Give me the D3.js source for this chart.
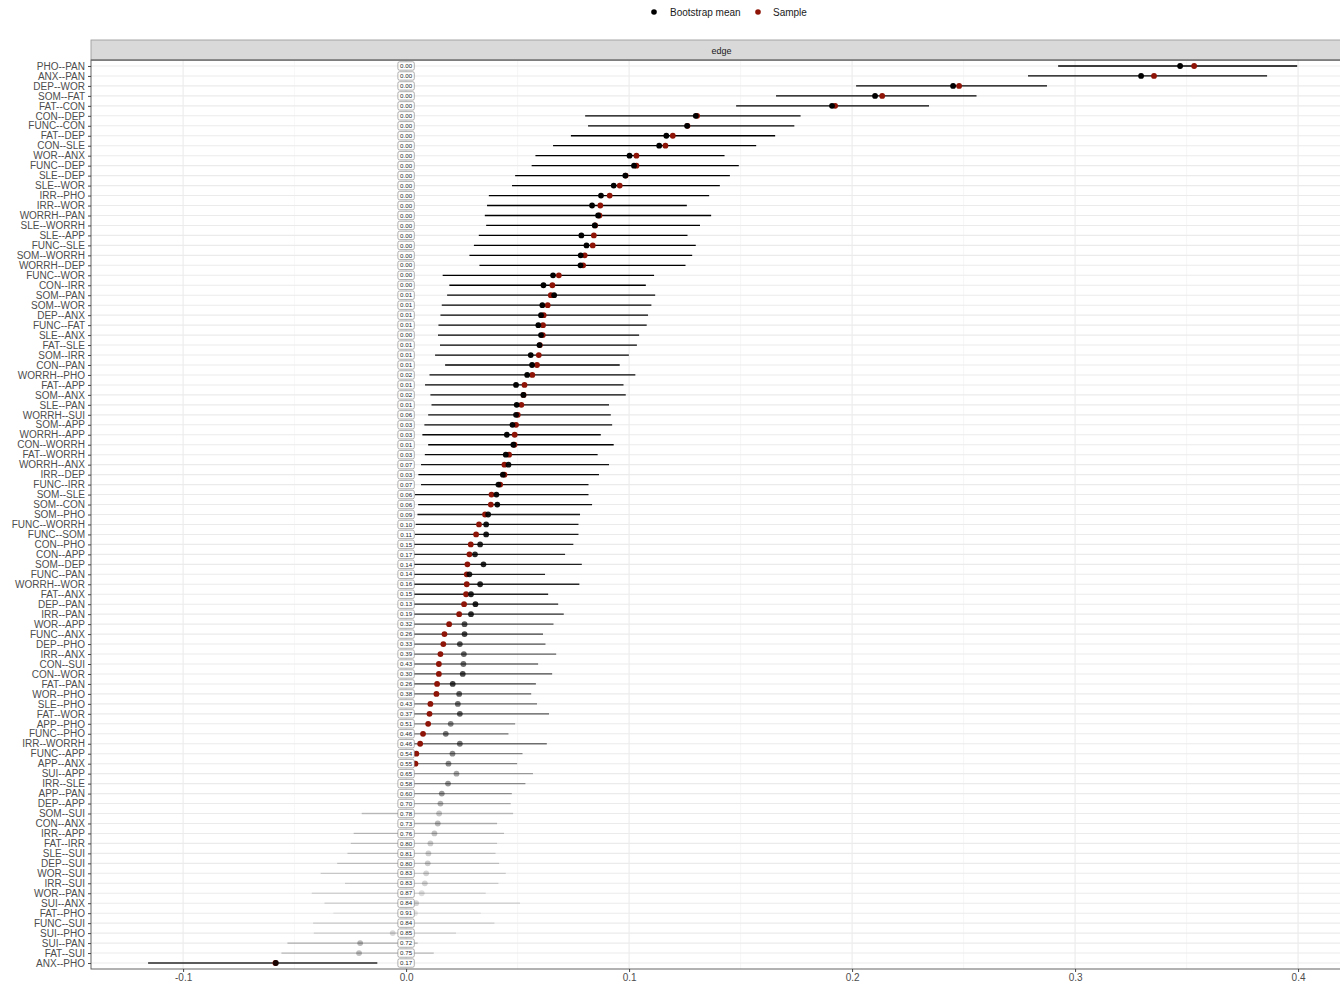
<!DOCTYPE html>
<html>
<head>
<meta charset="utf-8">
<script src="https://cdn.jsdelivr.net/npm/d3@7/dist/d3.min.js"></script>
<style>
  html, body { margin: 0; padding: 0; background: #ffffff; }
  svg { display: block; font-family: "Liberation Sans", Arial, Helvetica, sans-serif; }
</style>
</head>
<body>
<svg id="chart" width="1340" height="987"></svg>
<script>
// Edge weights, ordered from strongest to weakest sample estimate
const edges = [
  "PHO--PAN","ANX--PAN","DEP--WOR","SOM--FAT","FAT--CON","CON--DEP","FUNC--CON","FAT--DEP","CON--SLE","WOR--ANX",
  "FUNC--DEP","SLE--DEP","SLE--WOR","IRR--PHO","IRR--WOR","WORRH--PAN","SLE--WORRH","SLE--APP","FUNC--SLE","SOM--WORRH",
  "WORRH--DEP","FUNC--WOR","CON--IRR","SOM--PAN","SOM--WOR","DEP--ANX","FUNC--FAT","SLE--ANX","FAT--SLE","SOM--IRR",
  "CON--PAN","WORRH--PHO","FAT--APP","SOM--ANX","SLE--PAN","WORRH--SUI","SOM--APP","WORRH--APP","CON--WORRH","FAT--WORRH",
  "WORRH--ANX","IRR--DEP","FUNC--IRR","SOM--SLE","SOM--CON","SOM--PHO","FUNC--WORRH","FUNC--SOM","CON--PHO","CON--APP",
  "SOM--DEP","FUNC--PAN","WORRH--WOR","FAT--ANX","DEP--PAN","IRR--PAN","WOR--APP","FUNC--ANX","DEP--PHO","IRR--ANX",
  "CON--SUI","CON--WOR","FAT--PAN","WOR--PHO","SLE--PHO","FAT--WOR","APP--PHO","FUNC--PHO","IRR--WORRH","FUNC--APP",
  "APP--ANX","SUI--APP","IRR--SLE","APP--PAN","DEP--APP","SOM--SUI","CON--ANX","IRR--APP","FAT--IRR","SLE--SUI",
  "DEP--SUI","WOR--SUI","IRR--SUI","WOR--PAN","SUI--ANX","FAT--PHO","FUNC--SUI","SUI--PHO","SUI--PAN","FAT--SUI",
  "ANX--PHO"
];

// Edge weight in the original sample
const sampleValues = [
  0.3534,0.3354,0.2480,0.2135,0.1924,0.1305,0.1262,0.1196,0.1163,0.1033,
  0.1033,0.0985,0.0958,0.0913,0.0871,0.0867,0.0848,0.0842,0.0837,0.0801,
  0.0794,0.0685,0.0656,0.0649,0.0635,0.0617,0.0614,0.0613,0.0600,0.0595,
  0.0587,0.0566,0.0531,0.0527,0.0517,0.0501,0.0493,0.0487,0.0486,0.0462,
  0.0441,0.0441,0.0422,0.0383,0.0380,0.0354,0.0327,0.0314,0.0290,0.0284,
  0.0275,0.0272,0.0272,0.0269,0.0260,0.0238,0.0193,0.0172,0.0167,0.0154,
  0.0147,0.0147,0.0139,0.0136,0.0109,0.0105,0.0099,0.0076,0.0063,0.0046,
  0.0042,0,0,0,0,0,0,0,0,0,
  0,0,0,0,0,0,0,0,0,0,
  -0.0586
];

// Mean edge weight over bootstrap samples
const bootMeans = [
  0.3471,0.3296,0.2453,0.2103,0.1910,0.1299,0.1260,0.1167,0.1135,0.1002,
  0.1022,0.0983,0.0931,0.0874,0.0834,0.0861,0.0846,0.0786,0.0809,0.0783,
  0.0782,0.0659,0.0616,0.0664,0.0611,0.0605,0.0593,0.0605,0.0598,0.0559,
  0.0565,0.0543,0.0493,0.0526,0.0496,0.0493,0.0477,0.0452,0.0481,0.0447,
  0.0459,0.0434,0.0414,0.0405,0.0409,0.0368,0.0359,0.0359,0.0332,0.0309,
  0.0347,0.0284,0.0332,0.0291,0.0311,0.0291,0.0262,0.0262,0.0241,0.0259,
  0.0257,0.0254,0.0209,0.0238,0.0232,0.0241,0.0200,0.0178,0.0241,0.0208,
  0.0190,0.0226,0.0188,0.0160,0.0154,0.0148,0.0142,0.0127,0.0109,0.0100,
  0.0097,0.0090,0.0084,0.0070,0.0045,0.0040,0.0010,-0.0060,-0.0206,-0.0211,
  -0.0584
];

// Bootstrapped interval bounds
const ciLower = [
  0.2924,0.2789,0.2018,0.1659,0.1480,0.0803,0.0816,0.0739,0.0659,0.0580,
  0.0563,0.0489,0.0475,0.0371,0.0363,0.0353,0.0359,0.0326,0.0304,0.0284,
  0.0329,0.0164,0.0194,0.0184,0.0160,0.0154,0.0145,0.0143,0.0152,0.0130,
  0.0175,0.0105,0.0085,0.0109,0.0114,0.0099,0.0082,0.0073,0.0099,0.0084,
  0.0067,0.0055,0.0067,0.0040,0.0054,0.0051,0.0043,0.0040,0,0,
  0,0,0,0,0,0,0,0,0,0,
  0,0,0,0,0,0,0,0,0,0,
  0,0,0,0,0,-0.0199,0,-0.0235,-0.0248,-0.0263,
  -0.0309,-0.0383,-0.0274,-0.0423,-0.0366,-0.0326,-0.0417,-0.0414,-0.0532,-0.0559,
  -0.1157
];

const ciUpper = [
  0.3996,0.3861,0.2874,0.2558,0.2345,0.1769,0.1741,0.1655,0.1570,0.1428,
  0.1492,0.1452,0.1407,0.1359,0.1259,0.1368,0.1318,0.1262,0.1299,0.1283,
  0.1253,0.1112,0.1075,0.1117,0.1100,0.1085,0.1079,0.1045,0.1035,0.0999,
  0.0958,0.1028,0.0975,0.0985,0.0910,0.0918,0.0924,0.0873,0.0931,0.0859,
  0.0910,0.0865,0.0818,0.0818,0.0834,0.0780,0.0773,0.0773,0.0750,0.0713,
  0.0788,0.0623,0.0777,0.0637,0.0682,0.0707,0.0661,0.0614,0.0625,0.0673,
  0.0592,0.0655,0.0582,0.0561,0.0587,0.0641,0.0489,0.0459,0.0631,0.0522,
  0.0498,0.0569,0.0535,0.0474,0.0469,0.0480,0.0408,0.0439,0.0408,0.0401,
  0.0417,0.0447,0.0414,0.0357,0.0511,0.0335,0.0396,0.0224,0.0052,0.0124,
  -0.0129
];

// Proportion of bootstrap samples in which the edge was estimated as zero
const propZero = [
  0.00,0.00,0.00,0.00,0.00,0.00,0.00,0.00,0.00,0.00,
  0.00,0.00,0.00,0.00,0.00,0.00,0.00,0.00,0.00,0.00,
  0.00,0.00,0.00,0.01,0.01,0.01,0.01,0.00,0.01,0.01,
  0.01,0.02,0.01,0.02,0.01,0.06,0.03,0.03,0.01,0.03,
  0.07,0.03,0.07,0.06,0.06,0.09,0.10,0.11,0.15,0.17,
  0.14,0.14,0.16,0.15,0.13,0.19,0.32,0.26,0.33,0.39,
  0.43,0.30,0.26,0.38,0.43,0.37,0.51,0.46,0.46,0.54,
  0.55,0.65,0.58,0.60,0.70,0.78,0.73,0.76,0.80,0.81,
  0.80,0.83,0.83,0.87,0.84,0.91,0.84,0.85,0.72,0.75,
  0.17
];

const xTicks = [-0.1, 0.0, 0.1, 0.2, 0.3, 0.4];
const xMinorTicks = [-0.05, 0.05, 0.15, 0.25, 0.35];
const stripTitle = "edge";
const legendItems = [
  { label: "Bootstrap mean", color: "#000000" },
  { label: "Sample", color: "#8e1407" }
];

const rows = edges.map((e, i) => ({
  edge: e,
  sample: sampleValues[i],
  mean: bootMeans[i],
  lo: ciLower[i],
  hi: ciUpper[i],
  prop: propZero[i]
}));

const panel = { left: 91, right: 1341, top: 60, bottom: 969 };
const svg = d3.select("#chart");

const x = d3.scaleLinear().domain([-0.1413, 0.4188]).range([panel.left, 1340]);
const y = d3.scalePoint().domain(edges).range([panel.top, panel.bottom]).padding(0.6);
const alpha = d3.scaleLinear().domain([0, 1]).range([1, 0]).clamp(true);
const fmt = d3.format(".2f");
// axis labels use a plain hyphen for negative values
const tickFmt = d => d.toFixed(1);

// panel background
svg.append("rect")
  .attr("x", panel.left).attr("y", panel.top)
  .attr("width", panel.right - panel.left).attr("height", panel.bottom - panel.top)
  .attr("fill", "#ffffff");

// minor vertical grid
svg.append("g").selectAll("line").data(xMinorTicks).join("line")
  .attr("x1", d => x(d)).attr("x2", d => x(d))
  .attr("y1", panel.top).attr("y2", panel.bottom)
  .attr("stroke", "#f2f2f2").attr("stroke-width", 0.6);

// major vertical grid
svg.append("g").selectAll("line").data(xTicks).join("line")
  .attr("x1", d => x(d)).attr("x2", d => x(d))
  .attr("y1", panel.top).attr("y2", panel.bottom)
  .attr("stroke", "#ebebeb").attr("stroke-width", 1.1);

// horizontal grid, one per edge
svg.append("g").selectAll("line").data(edges).join("line")
  .attr("x1", panel.left).attr("x2", panel.right)
  .attr("y1", d => y(d)).attr("y2", d => y(d))
  .attr("stroke", "#ebebeb").attr("stroke-width", 1.1);

// bootstrap intervals
svg.append("g").selectAll("line").data(rows).join("line")
  .attr("x1", d => x(d.lo)).attr("x2", d => x(d.hi))
  .attr("y1", d => y(d.edge)).attr("y2", d => y(d.edge))
  .attr("stroke", "#000000")
  .attr("stroke-opacity", d => alpha(d.prop))
  .attr("stroke-width", 1.3);

// sample estimates
svg.append("g").selectAll("circle").data(rows).join("circle")
  .attr("cx", d => x(d.sample)).attr("cy", d => y(d.edge))
  .attr("r", 2.9)
  .attr("fill", legendItems[1].color);

// bootstrap means
svg.append("g").selectAll("circle").data(rows).join("circle")
  .attr("cx", d => x(d.mean)).attr("cy", d => y(d.edge))
  .attr("r", 2.9)
  .attr("fill", legendItems[0].color)
  .attr("fill-opacity", d => alpha(d.prop));

// proportion-zero labels at x = 0
const lab = svg.append("g").selectAll("g").data(rows).join("g")
  .attr("transform", d => `translate(${x(0)},${y(d.edge)})`);
lab.append("rect")
  .attr("x", -8.2).attr("y", -4.2)
  .attr("width", 16.4).attr("height", 8.4)
  .attr("rx", 1.6).attr("ry", 1.6)
  .attr("fill", "#ffffff")
  .attr("stroke", "#7a7a7a").attr("stroke-width", 0.6);
lab.append("text")
  .attr("text-anchor", "middle")
  .attr("dy", "0.35em")
  .attr("font-size", 6.2)
  .attr("fill", "#262626")
  .text(d => fmt(d.prop));

// panel border
svg.append("rect")
  .attr("x", panel.left).attr("y", panel.top)
  .attr("width", panel.right - panel.left).attr("height", panel.bottom - panel.top)
  .attr("fill", "none")
  .attr("stroke", "#555555").attr("stroke-width", 0.9);

// strip
svg.append("rect")
  .attr("x", panel.left).attr("y", 40)
  .attr("width", panel.right - panel.left).attr("height", panel.top - 40)
  .attr("fill", "#d9d9d9")
  .attr("stroke", "#9e9e9e").attr("stroke-width", 0.9);
svg.append("line")
  .attr("x1", panel.left).attr("x2", panel.right)
  .attr("y1", panel.top).attr("y2", panel.top)
  .attr("stroke", "#555555").attr("stroke-width", 1.2);
svg.append("text")
  .attr("x", (panel.left + 1340) / 2 + 6).attr("y", 50.5)
  .attr("dy", "0.35em")
  .attr("text-anchor", "middle")
  .attr("font-size", 9)
  .attr("fill", "#1a1a1a")
  .text(stripTitle);

// y axis
const yAxis = d3.axisLeft(y).tickSize(3).tickPadding(3);
const gy = svg.append("g").attr("transform", `translate(${panel.left},0)`).call(yAxis);
gy.select(".domain").remove();
gy.selectAll(".tick line").attr("stroke", "#333333").attr("stroke-width", 0.9);
gy.selectAll(".tick text")
  .attr("font-size", 10)
  .attr("font-family", "'Liberation Sans', Arial, sans-serif")
  .attr("fill", "#4d4d4d");

// x axis
const xAxis = d3.axisBottom(x).tickValues(xTicks).tickFormat(tickFmt).tickSize(3).tickPadding(2);
const gx = svg.append("g").attr("transform", `translate(0,${panel.bottom})`).call(xAxis);
gx.select(".domain").remove();
gx.selectAll(".tick line").attr("stroke", "#333333").attr("stroke-width", 0.9);
gx.selectAll(".tick text")
  .attr("font-size", 10)
  .attr("font-family", "'Liberation Sans', Arial, sans-serif")
  .attr("fill", "#4d4d4d");

// legend
const legendPos = [{ dot: 654, text: 670 }, { dot: 758, text: 773 }];
const lg = svg.append("g").selectAll("g").data(legendItems).join("g");
lg.append("circle")
  .attr("cx", (d, i) => legendPos[i].dot).attr("cy", 12)
  .attr("r", 2.8)
  .attr("fill", d => d.color);
lg.append("text")
  .attr("x", (d, i) => legendPos[i].text).attr("y", 12)
  .attr("dy", "0.35em")
  .attr("font-size", 10)
  .attr("fill", "#1a1a1a")
  .text(d => d.label);
</script>
</body>
</html>
